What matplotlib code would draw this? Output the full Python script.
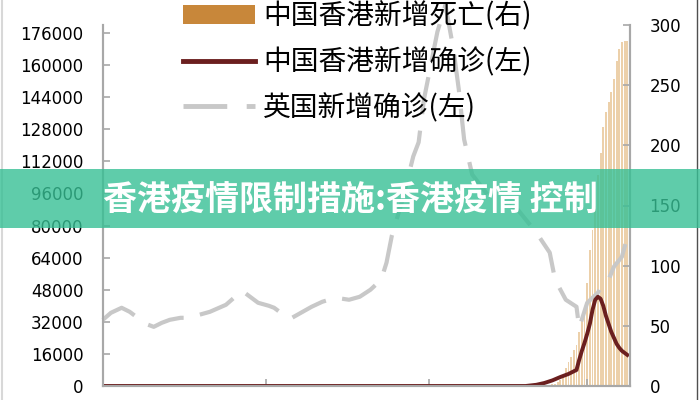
import matplotlib
matplotlib.use("Agg")
import matplotlib.pyplot as plt
import pandas as pd
from matplotlib.patches import Patch, Rectangle
from matplotlib.lines import Line2D

# UK new cases (left axis)
uk_dates = ["2021-09-01", "2021-09-04", "2021-09-08", "2021-09-11", "2021-09-14",
            "2021-09-17", "2021-09-20", "2021-09-23", "2021-09-26", "2021-09-30",
            "2021-10-03", "2021-10-07", "2021-10-11", "2021-10-17", "2021-10-20",
            "2021-10-23", "2021-10-26", "2021-10-29", "2021-11-02", "2021-11-04",
            "2021-11-07", "2021-11-10", "2021-11-14", "2021-11-18", "2021-11-22",
            "2021-11-27", "2021-12-02", "2021-12-06", "2021-12-10", "2021-12-14",
            "2021-12-16", "2021-12-18", "2021-12-22", "2021-12-26", "2021-12-28",
            "2021-12-30", "2022-01-04", "2022-01-07", "2022-01-10", "2022-01-12",
            "2022-01-14", "2022-01-17", "2022-01-23", "2022-02-03", "2022-02-10",
            "2022-02-15", "2022-02-17", "2022-02-21", "2022-02-25", "2022-02-26",
            "2022-03-01", "2022-03-05", "2022-03-07", "2022-03-09", "2022-03-11",
            "2022-03-14", "2022-03-16", "2022-03-17"]
uk_cases = [33000, 36500, 39000, 37000, 34000,
            31000, 29500, 31500, 33000, 34000,
            34000, 35500, 37000, 40500, 44000,
            47500, 44500, 41500, 40000, 39000,
            36000, 33500, 36500, 39500, 42000,
            44000, 43000, 44500, 48000, 53000,
            61500, 75000, 93000, 114500, 121500,
            143000, 176500, 190000, 168000, 148000,
            123000, 105500, 95000, 88000, 76500,
            66500, 53000, 43000, 39500, 29000,
            41500, 46500, 51500, 53000, 59500,
            64500, 74500, 78000]

# Hong Kong new cases (left axis)
hk_dates = ["2021-09-01", "2022-02-06", "2022-02-10", "2022-02-13", "2022-02-16",
            "2022-02-19", "2022-02-22", "2022-02-25", "2022-02-26", "2022-02-27",
            "2022-02-28", "2022-03-01", "2022-03-02", "2022-03-03", "2022-03-04",
            "2022-03-05", "2022-03-06", "2022-03-07", "2022-03-08", "2022-03-09",
            "2022-03-10", "2022-03-11", "2022-03-12", "2022-03-13", "2022-03-14",
            "2022-03-15", "2022-03-16"]
hk_cases = [0, 0, 600, 1500, 2800,
            4500, 6000, 8000, 13000, 17500,
            21500, 26000, 31000, 38000, 43000,
            44500, 43500, 40000, 35000, 31000,
            27000, 24000, 21000, 19000, 17500,
            16500, 15500]

# Hong Kong new deaths (right axis), daily from 2022-02-13
death_dates = pd.date_range("2022-02-13", "2022-03-16", freq="D")
hk_deaths = [0.5, 1, 1, 2, 2, 3, 5, 9, 15, 20, 24, 30, 34, 45, 55, 63,
             86, 113, 130, 150, 175, 194, 215, 228, 236, 244, 255, 270,
             280, 286, 287, 287]

labels = ["中国香港新增死亡(右)", "中国香港新增确诊(左)", "英国新增确诊(左)"]
title = "香港疫情限制措施:香港疫情 控制"

cjk = ["Noto Sans CJK SC", "DejaVu Sans"]
grey = "#C8C8C8"
maroon = "#6B1F1F"
axis_col = "#A8A8A8"

fig = plt.figure(figsize=(7, 4), dpi=100)
ax1 = fig.add_axes([0.147, 0.035, 0.753, 0.9025])
ax2 = ax1.twinx()
ax1.set_zorder(ax2.get_zorder() + 1)
ax1.patch.set_visible(False)

ax2.bar(death_dates, hk_deaths, width=0.7, color="#ECD0AA", linewidth=0)

ax1.plot(pd.to_datetime(uk_dates), uk_cases, color=grey, lw=3,
         dashes=(9, 4), solid_capstyle="butt", clip_on=False)
ax1.plot(pd.to_datetime(hk_dates), hk_cases, color=maroon, lw=2.8)

ax1.set_xlim(pd.Timestamp("2021-09-01"), pd.Timestamp("2022-03-17"))
ax1.set_ylim(0, 180000)
ax1.set_yticks(range(0, 176001, 16000))
ax2.set_ylim(0, 300)
ax2.set_yticks(range(0, 301, 50))
ax1.set_xticks(pd.to_datetime(["2021-09-01", "2021-11-01", "2022-01-01", "2022-03-01"]))
ax1.set_xticklabels([])

for a in (ax1, ax2):
    a.spines["top"].set_visible(False)
    for s in ("left", "right", "bottom"):
        a.spines[s].set_color(axis_col)
        a.spines[s].set_linewidth(1.5)
    a.tick_params(direction="in", length=5, width=1.2, color=axis_col,
                  labelsize=12, pad=14)

handles = [Patch(facecolor="#C8873A"),
           Line2D([], [], color=maroon, lw=3.5),
           Line2D([], [], color=grey, lw=3.5, dashes=(9, 4))]
fig.legend(handles, labels, loc="upper left", bbox_to_anchor=(0.241, 1.031),
           frameon=False, prop={"family": cjk, "size": 20}, handlelength=2.6,
           handletextpad=0.3, labelspacing=0.57, borderpad=0)

# overlay banner
fig.patches.append(Rectangle((0, 1 - 228 / 400), 1, 59 / 400, transform=fig.transFigure,
                             facecolor="#37C095", alpha=0.8, lw=0, zorder=5))
fig.text(0.501, 1 - 199 / 400, title, color="white", fontsize=24.5, fontweight="bold",
         family=cjk, ha="center", va="center", zorder=6)

# image border
fig.add_artist(Line2D([2 / 700, 2 / 700], [0, 1], transform=fig.transFigure,
                      color="#D8D8D8", lw=1.5))
fig.add_artist(Line2D([697 / 700, 697 / 700], [0, 1], transform=fig.transFigure,
                      color="#505050", lw=1))

fig.savefig("out.png", dpi=100)
